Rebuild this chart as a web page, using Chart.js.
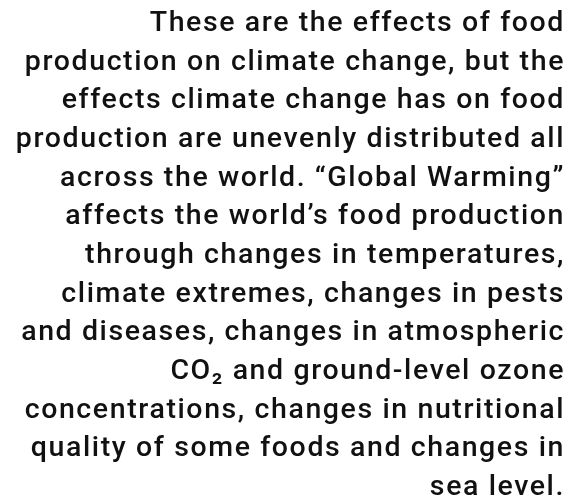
<!DOCTYPE html>
<html>
<head>
<meta charset="utf-8">
<script src="https://cdn.jsdelivr.net/npm/chart.js@4"></script>
<style>
  html, body { margin: 0; padding: 0; background: #fff; }
  #wrap { width: 577px; height: 500px; }
</style>
</head>
<body>
<div id="wrap"><canvas id="textChart"></canvas></div>
<script>
// Text lines of the paragraph, right aligned
const lines = [
  "These are the effects of food",
  "production on climate change, but the",
  "effects climate change has on food",
  "production are unevenly distributed all",
  "across the world. \u201cGlobal Warming\u201d",
  "affects the world\u2019s food production",
  "through changes in temperatures,",
  "climate extremes, changes in pests",
  "and diseases, changes in atmospheric",
  "CO\u2082 and ground-level ozone",
  "concentrations, changes in nutritional",
  "quality of some foods and changes in",
  "sea level."
];

// the reference font is tracked a bit wider than Roboto
const tracking = {
  id: 'tracking',
  beforeDraw(chart) {
    chart.ctx.letterSpacing = '1.6px';
  }
};

const ctx = document.getElementById('textChart').getContext('2d');

const myChart = new Chart(ctx, {
  type: 'bar',
  data: { labels: [], datasets: [] },
  plugins: [tracking],
  options: {
    responsive: true,
    maintainAspectRatio: false,
    animation: false,
    layout: { padding: { right: 12, left: 0, top: 0, bottom: 0 } },
    scales: {
      x: { display: false },
      y: { display: false }
    },
    plugins: {
      legend: { display: false },
      tooltip: { enabled: false },
      title: {
        display: true,
        text: lines,
        align: 'end',
        color: '#111',
        font: { family: 'Roboto', size: 28.5, weight: '500', lineHeight: 38.67 / 28.5 },
        padding: { top: 4.4, bottom: 0 }
      }
    }
  }
});
</script>
</body>
</html>
